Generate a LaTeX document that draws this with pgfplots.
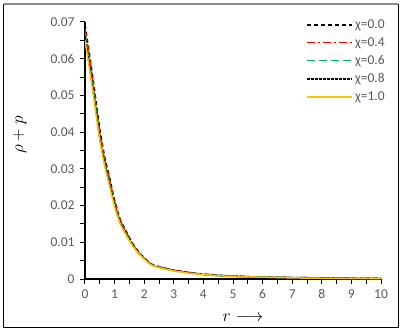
\documentclass[border=0pt]{standalone}
\usepackage{fontspec}
\setmainfont{Carlito}
\usepackage{pgfplots}
\usepackage{pgfplotstable}
\pgfplotsset{compat=1.18}
\definecolor{tickgray}{HTML}{595959}
\definecolor{cgreen}{HTML}{00B050}
\definecolor{cyellow}{HTML}{FFC000}
\definecolor{cred}{HTML}{FF0000}
\pgfplotstableread{
x a b c d e
0 0.0692 0.0682 0.0671 0.0661 0.0650
0.1 0.0640 0.0630 0.0619 0.0609 0.0598
0.2 0.0585 0.0575 0.0565 0.0555 0.0545
0.3 0.0528 0.0519 0.0509 0.0500 0.0490
0.4 0.0468 0.0459 0.0450 0.0441 0.0432
0.5 0.0408 0.0400 0.0392 0.0384 0.0376
0.6 0.0360 0.0353 0.0346 0.0339 0.0332
0.7 0.0318 0.0312 0.0306 0.0300 0.0294
0.8 0.0288 0.0282 0.0275 0.0269 0.0262
0.9 0.0250 0.0245 0.0239 0.0234 0.0228
1.0 0.0215 0.0211 0.0206 0.0202 0.0197
1.1 0.0185 0.0181 0.0178 0.0174 0.0170
1.2 0.0160 0.0157 0.0154 0.0151 0.0148
1.3 0.0144 0.0141 0.0139 0.0136 0.0133
1.4 0.0128 0.0126 0.0123 0.0121 0.0118
1.5 0.0113 0.0111 0.0109 0.0106 0.0104
1.6 0.0098 0.0096 0.0095 0.0093 0.0091
1.8 0.0075 0.0074 0.0073 0.0071 0.0070
2.0 0.0058 0.0057 0.0056 0.0055 0.0054
2.2 0.0043 0.0042 0.0042 0.0041 0.0040
2.35 0.0036 0.0036 0.0035 0.0035 0.0034
2.5 0.0033 0.0033 0.0032 0.0032 0.0031
3.0 0.0024 0.0024 0.0023 0.0023 0.0022
3.5 0.0018 0.0018 0.0017 0.0017 0.0016
4.0 0.0013 0.0013 0.0013 0.0012 0.0012
4.5 0.0010 0.0010 0.0010 0.0009 0.0009
5.0 0.0008 0.0008 0.0008 0.0007 0.0007
6.0 0.0005 0.0005 0.0005 0.0005 0.0005
7.0 0.0004 0.0004 0.0004 0.0003 0.0003
8.0 0.0003 0.0003 0.0003 0.0002 0.0002
9.0 0.0002 0.0002 0.0002 0.0002 0.0002
10.0 0.0002 0.0002 0.0002 0.0001 0.0001
}\datatable
\begin{document}
\begin{tikzpicture}
\path[use as bounding box] (-85pt,-53pt) rectangle (318pt,279pt);
\draw[black, line width=1pt] (-81pt,275pt) -- (-81pt,-48pt) -- (313pt,-48pt) -- (313pt,275pt);
\draw[gray!90, line width=1.2pt] (-81pt,275pt) -- (313pt,275pt);
\begin{axis}[
  at={(0pt,0pt)}, anchor=south west,
  scale only axis, width=296pt, height=257pt,
  xmin=0, xmax=10, ymin=0, ymax=0.07,
  axis x line*=bottom, axis y line*=left,
  axis line style={black, line width=1.3pt},
  tick align=outside,
  major tick length=5pt, minor tick length=5pt,
  tick style={black, line width=1pt},
  xtick={0,1,...,10},
  minor x tick num=1, minor y tick num=1,
  ytick={0,0.01,0.02,0.03,0.04,0.05,0.06,0.07},
  yticklabels={0,0.01,0.02,0.03,0.04,0.05,0.06,0.07},
  scaled y ticks=false,
  /pgf/number format/assume math mode=true,
  tick label style={font=\fontsize{13.5}{15}\selectfont, text=tickgray},
  xticklabel style={yshift=-2pt},
  yticklabel style={xshift=-2pt},
  xlabel={$r\longrightarrow$},
  ylabel={$\rho+p$},
  label style={font=\fontsize{18}{20}\selectfont},
  xlabel style={at={(axis description cs:0.534,-0.152)}, anchor=center},
  ylabel style={at={(axis description cs:-0.22,0.56)}, anchor=center, rotate=0},
  legend style={at={(rel axis cs:1.03,1.025)}, anchor=north east, draw=none, fill=none,
    font=\fontsize{13.5}{15}\selectfont, row sep=3.5pt,
    cells={anchor=west}},
  legend image code/.code={\draw[#1] (0pt,0pt) -- (45pt,0pt);},
  clip=true,
]
\addplot[black, line width=1.5pt, dash pattern=on 4pt off 3pt] table[x=x,y=a]{\datatable};
\addlegendentry{\textcolor{tickgray}{χ=0.0}}
\addplot[cred, line width=1.5pt, dash pattern=on 8pt off 3pt on 2pt off 3pt] table[x=x,y=b]{\datatable};
\addlegendentry{\textcolor{tickgray}{χ=0.4}}
\addplot[cgreen, line width=1.5pt, dash pattern=on 8pt off 4pt] table[x=x,y=c]{\datatable};
\addlegendentry{\textcolor{tickgray}{χ=0.6}}
\addplot[black, line width=1.5pt, dash pattern=on 2.5pt off 1.5pt] table[x=x,y=d]{\datatable};
\addlegendentry{\textcolor{tickgray}{χ=0.8}}
\addplot[cyellow, line width=1.5pt] table[x=x,y=e]{\datatable};
\addlegendentry{\textcolor{tickgray}{χ=1.0}}
\end{axis}
\end{tikzpicture}
\end{document}
